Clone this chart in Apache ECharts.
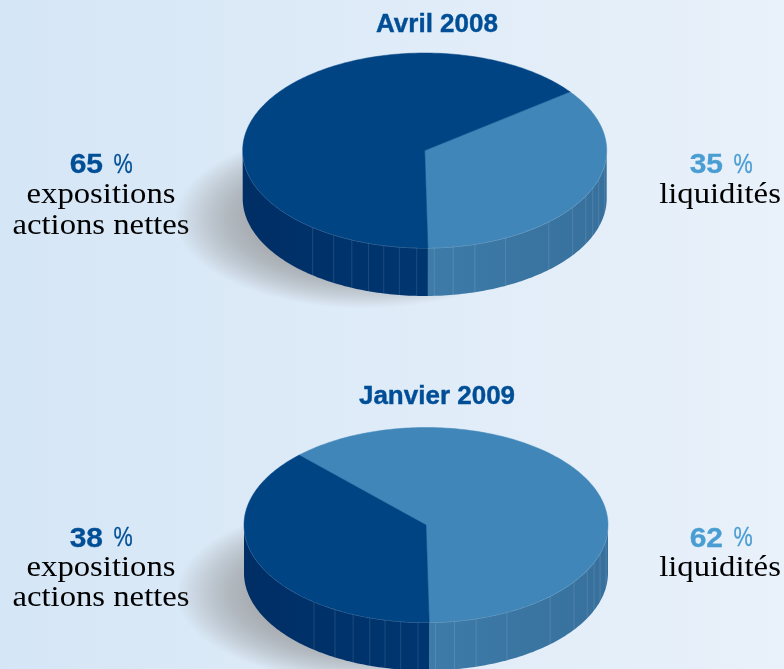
<!DOCTYPE html>
<html>
<head>
<meta charset="utf-8">
<style>
  html, body { margin: 0; padding: 0; }
  #chart { width: 784px; height: 669px; }
</style>
</head>
<body>
<div id="chart"></div>
<script src="https://cdn.jsdelivr.net/npm/echarts@6/dist/echarts.min.js"></script>
<script>
// donnees
const periodes = ["Avril 2008", "Janvier 2009"];
const expositions = [65, 38];
const liquidites = [35, 62];
const labelExpo = ["expositions", "actions nettes"];
const labelLiq = "liquidités";

// mise en page
const pies = [
  { cx: 424.7, cy: 150.5, titleY: 24.5, pctY: 165.5, line1Y: 195.5, line2Y: 226 },
  { cx: 426, cy: 525, titleY: 396.5, pctY: 539, line1Y: 568.5, line2Y: 598 },
];
const RX = 182, RY = 97.5, DEPTH = 48;
const START_ANGLE = -89; // angle de depart des liquidites
const COLORS = [
  { top: "#4186b8", left: "#3e7ba9", right: "#37709c" }, // liquidites
  { top: "#004484", left: "#002e65", right: "#003670" }, // expositions
];
// traits verticaux du flanc (facettes), en degres
const FACETS = [-128, -120, -113.6, -108, -103, -98, -92.5, -87, -81, -74, -63.6, -47, -35.6, -27.7, -22.6, -17, -8.5];

function pt(p, deg, dy) {
  const a = (deg * Math.PI) / 180;
  return [p.cx + RX * Math.cos(a), p.cy - RY * Math.sin(a) + (dy || 0)];
}

function arc(p, from, to, dy) {
  const pts = [];
  const n = Math.max(2, Math.ceil(Math.abs(to - from)));
  for (let i = 0; i <= n; i++) pts.push(pt(p, from + ((to - from) * i) / n, dy));
  return pts;
}

// partie avant du secteur (flanc visible), angles entre -180 et 0
function frontParts(a0, a1) {
  const parts = [];
  [-360, 0, 360].forEach((k) => {
    const from = Math.max(a0 + k, -180);
    const to = Math.min(a1 + k, 0);
    if (to > from) parts.push([from, to]);
  });
  return parts;
}

function renderSlice(p, params, api) {
  const value = api.value(0);
  const before = api.value(1);
  const idx = params.dataIndex;
  const a0 = START_ANGLE + (before * 360) / 100;
  const a1 = a0 + (value * 360) / 100;
  const c = COLORS[idx];
  const children = [];

  frontParts(a0, a1).forEach((part) => {
    const top = arc(p, part[0], part[1], 0);
    const bottom = arc(p, part[1], part[0], DEPTH);
    const left = pt(p, part[0], 0);
    const right = pt(p, part[1], 0);
    const flip = left[0] > right[0];
    children.push({
      type: "polygon",
      shape: { points: top.concat(bottom) },
      style: {
        fill: new echarts.graphic.LinearGradient(0, 0, 1, 0, [
          { offset: 0, color: flip ? c.right : c.left },
          { offset: 1, color: flip ? c.left : c.right },
        ]),
      },
    });
    FACETS.forEach((f) => {
      if (f > part[0] && f < part[1]) {
        children.push({
          type: "line",
          shape: {
            x1: pt(p, f, 0)[0], y1: pt(p, f, 0)[1],
            x2: pt(p, f, DEPTH)[0], y2: pt(p, f, DEPTH)[1],
          },
          style: { stroke: "rgba(255,255,255,0.15)", lineWidth: 0.8 },
        });
      }
    });
    children.push({
      type: "polyline",
      shape: { points: top },
      style: { fill: null, stroke: "rgba(255,255,255,0.4)", lineWidth: 0.8 },
    });
  });

  children.push({
    type: "polygon",
    shape: { points: [[p.cx, p.cy]].concat(arc(p, a0, a1, 0)) },
    style: { fill: c.top, stroke: c.top, lineWidth: 0.5 },
  });
  return { type: "group", children: children };
}

// ombre portee, un cercle etire
function renderShadow(params) {
  const p = pies[params.dataIndex];
  return {
    type: "circle",
    x: p.cx - 60,
    y: p.cy + 68,
    scaleX: 2.11,
    scaleY: 1,
    shape: { cx: 0, cy: 0, r: 90 },
    style: {
      fill: new echarts.graphic.RadialGradient(0.5, 0.5, 0.5, [
        { offset: 0, color: "rgba(135,135,135,0.7)" },
        { offset: 0.6, color: "rgba(135,135,135,0.62)" },
        { offset: 0.72, color: "rgba(135,135,135,0.5)" },
        { offset: 0.8, color: "rgba(135,135,135,0.38)" },
        { offset: 0.87, color: "rgba(135,135,135,0.26)" },
        { offset: 0.94, color: "rgba(135,135,135,0.12)" },
        { offset: 1, color: "rgba(135,135,135,0)" },
      ]),
    },
  };
}

const series = [
  {
    type: "custom",
    coordinateSystem: "none",
    silent: true,
    data: periodes.map((d, i) => [i]),
    renderItem: renderShadow,
  },
];
periodes.forEach((periode, i) => {
  series.push({
    type: "custom",
    name: periode,
    coordinateSystem: "none",
    silent: true,
    data: [
      [liquidites[i], 0],
      [expositions[i], liquidites[i]],
    ],
    renderItem: (params, api) => renderSlice(pies[i], params, api),
  });
});

const SANS = '"Liberation Sans", Arial, sans-serif';
const SERIF = '"Liberation Serif", "Times New Roman", serif';

function pctText(x, y, value, color) {
  return [
    {
      type: "text",
      x: x + 2,
      y: y,
      scaleX: 1.07,
      style: { text: String(value), font: "bold 28px " + SANS, fill: color, stroke: color, lineWidth: 0.3, align: "right", verticalAlign: "middle" },
    },
    {
      type: "text",
      x: x + 12.5,
      y: y,
      scaleX: 0.8,
      style: { text: "%", font: "27px " + SANS, fill: color, stroke: color, lineWidth: 0.3, align: "left", verticalAlign: "middle" },
    },
  ];
}

function serifText(x, y, text) {
  return {
    type: "text",
    x: x,
    y: y,
    scaleX: 1.09,
    style: { text: text, font: "30px " + SERIF, fill: "#000", align: "center", verticalAlign: "middle" },
  };
}

const elements = [];
periodes.forEach((periode, i) => {
  const p = pies[i];
  elements.push({
    type: "text",
    x: 437,
    y: p.titleY,
    style: { text: periode, font: "bold 26px " + SANS, fill: "#004f96", stroke: "#004f96", lineWidth: 0.4, align: "center", verticalAlign: "middle" },
  });
  elements.push(...pctText(101, p.pctY, expositions[i], "#004f96"));
  elements.push(serifText(101, p.line1Y, labelExpo[0]));
  elements.push(serifText(101, p.line2Y, labelExpo[1]));
  elements.push(...pctText(721, p.pctY, liquidites[i], "#4a9dd2"));
  elements.push(serifText(720, p.line1Y, labelLiq));
});

const chart = echarts.init(document.getElementById("chart"));
chart.setOption({
  animation: false,
  backgroundColor: new echarts.graphic.LinearGradient(0, 0, 1, 0, [
    { offset: 0, color: "#d5e6f6" },
    { offset: 1, color: "#e9f1fa" },
  ]),
  series: series,
  graphic: { elements: elements },
});
</script>
</body>
</html>
